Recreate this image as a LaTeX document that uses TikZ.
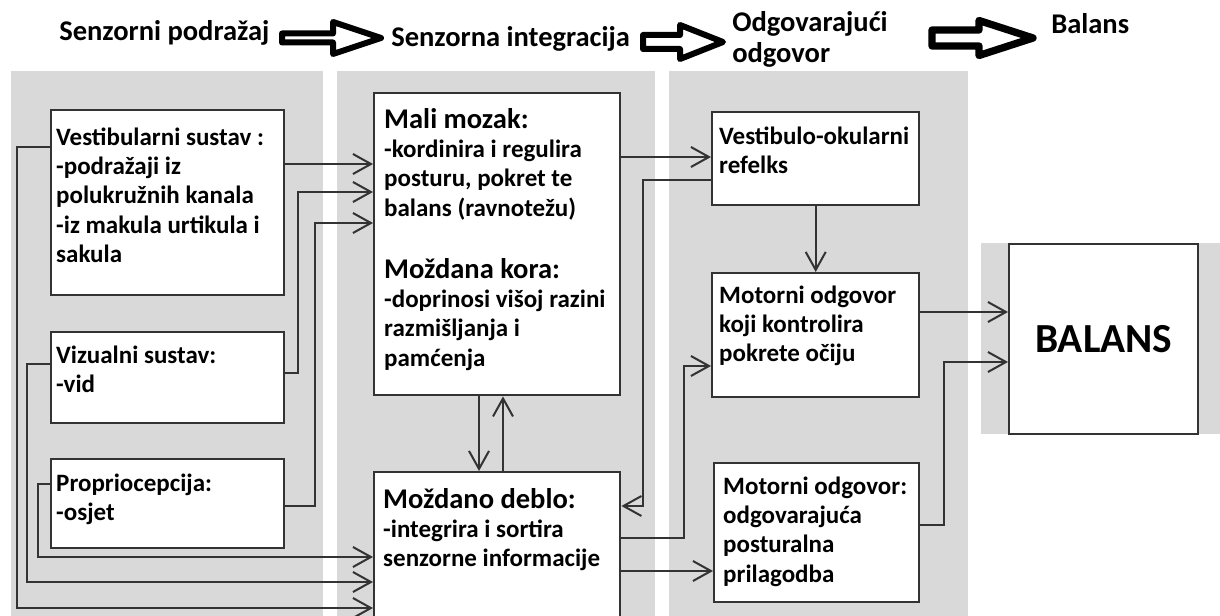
\documentclass[tikz,border=0pt]{standalone}
\usepackage{fontspec}
\setmainfont{Carlito}
\usepackage{tikz}
\usetikzlibrary{arrows.meta}
\newdimen\pxu \pxu=0.75pt
% text in a box: width, height, left pad, first baseline (all in px), text
\newcommand{\blokTekst}[5]{\parbox[b][#2\pxu][t]{#1\pxu}{\raggedright\leftskip=#3\pxu
    \exhyphenpenalty=10000 \hyphenpenalty=10000
    \fontsize{18.75}{22}\selectfont\rule{0pt}{#4\pxu}#5}}
\newcommand{\naslovBloka}[1]{{\fontsize{21.4}{22}\selectfont #1}}
% big white arrow: x start, x head, x tip, y, shaft half, head half
\newcommand{\tikzVelikaStrelica}[7][]{\draw[debela,#1] (#2,#5-#6) -- (#3,#5-#6) -- (#3,#5-#7) -- (#4,#5) -- (#3,#5+#7) -- (#3,#5+#6) -- (#2,#5+#6) -- cycle}

\begin{document}
\begin{tikzpicture}[x=0.75pt,y=-0.75pt,
    ploca/.style={fill=black!15},
    blok/.style={draw=black!80, line width=1.8pt, fill=white, inner sep=0pt, anchor=north west, font=\bfseries},
    naslov/.style={inner sep=0pt, anchor=base west, font=\bfseries\fontsize{21.4}{23.25}\selectfont},
    veza/.style={draw=black!80, line width=1.5pt, line join=miter, -{Straight Barb[length=13.5pt,width=15pt]}},
    debela/.style={draw=black, fill=white, line width=4.5pt, line join=round}]
  \useasboundingbox (0,0) rectangle (1220,616);

  % grey columns
  \foreach \xa/\xb in {11/323, 337/655, 669/968}{
      \fill[ploca] (\xa,71) rectangle (\xb,616);
    }
  \fill[ploca] (981,243) rectangle (1220,434);

  % headings
  \node[naslov] (h1) at (59,41) {Senzorni podražaj};
  \node[naslov] (h2) at (391,47) {Senzorna integracija};
  \node[naslov, align=left] (h3) at (732,63) {Odgovarajući\\odgovor};
  \node[naslov] (h4) at (1051,34) {Balans};
  \tikzVelikaStrelica{282}{333}{381}{38}{4.5}{16};
  \tikzVelikaStrelica{643}{680}{723}{42}{7}{17};
  \tikzVelikaStrelica[line width=5.5pt]{932}{979}{1033}{38}{8}{17.5};

  % sensory input
  \node[blok] (vest) at (50,109) {\blokTekst{233}{185}{5}{35}{Vestibularni sustav :\\-podražaji iz\\polukružnih kanala\\-iz makula urtikula i\\sakula}};
  \node[blok] (viz) at (50,331) {\blokTekst{233}{91}{5}{31}{Vizualni sustav:\\-vid}};
  \node[blok] (prop) at (50,458) {\blokTekst{233}{89}{5}{32}{Propriocepcija:\\-osjet}};

  % integration
  \node[blok] (mali) at (373,92) {\blokTekst{246}{302}{10}{35}{\naslovBloka{Mali mozak:}\\-kordinira i regulira\\posturu, pokret te\\balans (ravnotežu)\\[24.5pt]\naslovBloka{Moždana kora:}\\-doprinosi višoj razini\\razmišljanja i\\pamćenja}};
  \node[blok] (deblo) at (373,471) {\blokTekst{246}{150}{9}{36}{\naslovBloka{Moždano deblo:}\\-integrira i sortira\\senzorne informacije}};

  % response
  \node[blok] (vo) at (711,111) {\blokTekst{207}{93}{7}{32}{Vestibulo-okularni\\refelks}};
  \node[blok] (koji) at (711,272) {\blokTekst{207}{124}{7}{30}{Motorni odgovor\\koji kontrolira\\pokrete očiju}};
  \node[blok] (post) at (713,462) {\blokTekst{205}{139}{9}{31}{Motorni odgovor:\\odgovarajuća\\posturalna\\prilagodba}};

  \node[blok, minimum width=141.75pt, minimum height=142.5pt, font=\bfseries\fontsize{31}{34}\selectfont] (balans) at (1008,243) {BALANS};

  % connectors
  \draw[veza] (vest.east |- 0,164) -- (mali.west |- 0,164);
  \draw[veza] (viz.east |- 0,373) -| (298,192) -- (mali.west |- 0,192);
  \draw[veza] (prop.east |- 0,506) -| (315,223) -- (mali.west |- 0,223);
  \foreach \izvor/\ya/\xk/\yb in {vest/147/17/608, viz/364/27/582, prop/484/38/557}{
      \draw[veza] (\izvor.west |- 0,\ya) -| (\xk,\yb) -- (deblo.west |- 0,\yb);
    }
  \draw[veza] (mali.south -| 479,0) -- (deblo.north -| 479,0);
  \draw[veza] (deblo.north -| 503,0) -- (mali.south -| 503,0);
  \draw[veza] (mali.east |- 0,157) -- (vo.west |- 0,157);
  \draw[veza] (vo.west |- 0,180) -| (643,506) -- (deblo.east |- 0,506);
  \draw[veza] (deblo.east |- 0,538) -| (684,366) -- (koji.west |- 0,366);
  \draw[veza] (deblo.east |- 0,571) -- (post.west |- 0,571);
  \draw[veza] (vo.south) -- (koji.north);
  \draw[veza] (koji.east |- 0,312) -- (balans.west |- 0,312);
  \draw[veza] (post.east |- 0,525) -| (944,362) -- (balans.west |- 0,362);
\end{tikzpicture}
\end{document}
